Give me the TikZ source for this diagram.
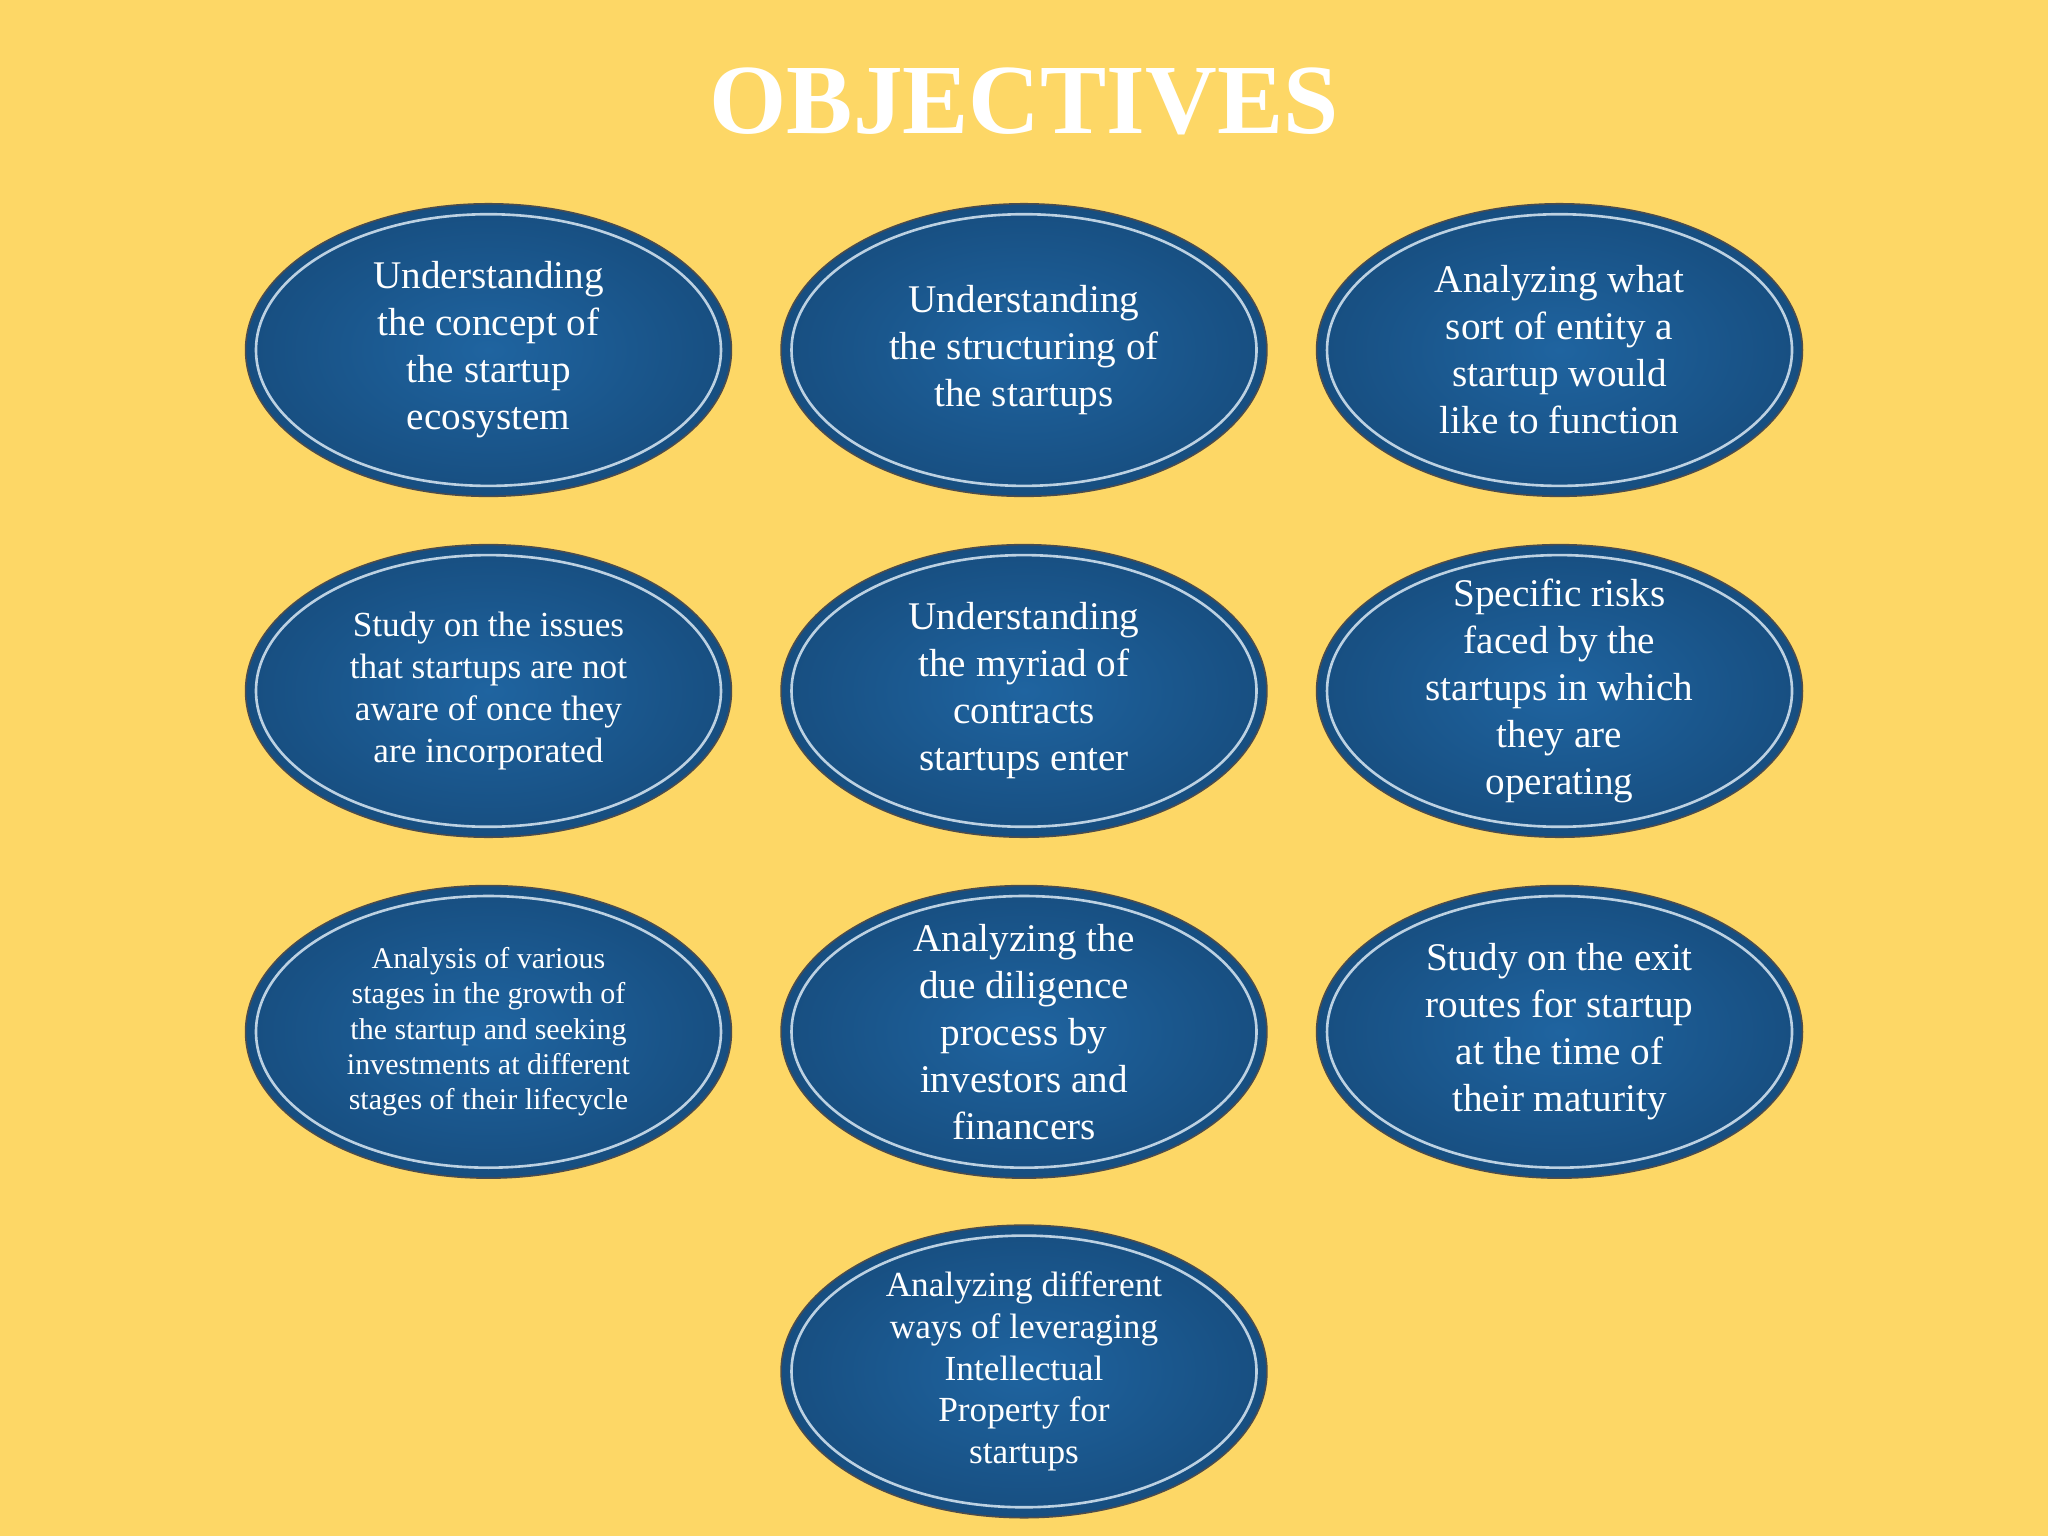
\documentclass[tikz,border=0pt]{standalone}
\usepackage{fontspec}
\usetikzlibrary{shapes.geometric}
\setmainfont{Liberation Serif}
\definecolor{bg}{HTML}{FDD766}
\definecolor{ov}{HTML}{1F64A0}
\definecolor{ovd}{HTML}{174E80}
\begin{document}
\begin{tikzpicture}[x=1pt,y=-1pt,
  obj/.style={ellipse,minimum width=372,minimum height=224,inner sep=0pt},
  txt/.style={text=white,align=center,font=\fontsize{30}{36}\selectfont}]
\fill[bg] (0,0) rectangle (1568,1176);
\useasboundingbox (0,0) rectangle (1568,1176);
\node[text=white,font=\bfseries\fontsize{76}{80}\selectfont] (title) at (784,78) {OBJECTIVES};
\def\ov#1#2#3{%
  \shade[inner color=ov,outer color=ovd,draw=black!70,line width=1.2pt] (#1,#2) ellipse [x radius=186,y radius=112];
  \draw[white!70!ov,line width=2pt] (#1,#2) ellipse [x radius=178,y radius=104];
  \node[obj] (#3) at (#1,#2) {};}
\ov{374}{268}{a}\ov{784}{268}{b}\ov{1194}{268}{c}
\ov{374}{529}{d}\ov{784}{529}{e}\ov{1194}{529}{f}
\ov{374}{790}{g}\ov{784}{790}{h}\ov{1194}{790}{i}
\ov{784}{1050}{j}
\node[txt] at (a) {Understanding\\the concept of\\the startup\\ecosystem};
\node[txt] at (b) {Understanding\\the structuring of\\the startups};
\node[txt] at (c) {Analyzing what\\sort of entity a\\startup would\\like to function};
\node[txt,font=\fontsize{27}{32}\selectfont] at (d) {Study on the issues\\that startups are not\\aware of once they\\are incorporated};
\node[txt] at (e) {Understanding\\the myriad of\\contracts\\startups enter};
\node[txt] at (f) {Specific risks\\faced by the\\startups in which\\they are\\operating};
\node[txt,font=\fontsize{23}{27}\selectfont] at (g) {Analysis of various\\stages in the growth of\\the startup and seeking\\investments at different\\stages of their lifecycle};
\node[txt] at (h) {Analyzing the\\due diligence\\process by\\investors and\\financers};
\node[txt] at (i) {Study on the exit\\routes for startup\\at the time of\\their maturity};
\node[txt,font=\fontsize{27}{32}\selectfont] at (j) {Analyzing different\\ways of leveraging\\Intellectual\\Property for\\startups};
\end{tikzpicture}
\end{document}
